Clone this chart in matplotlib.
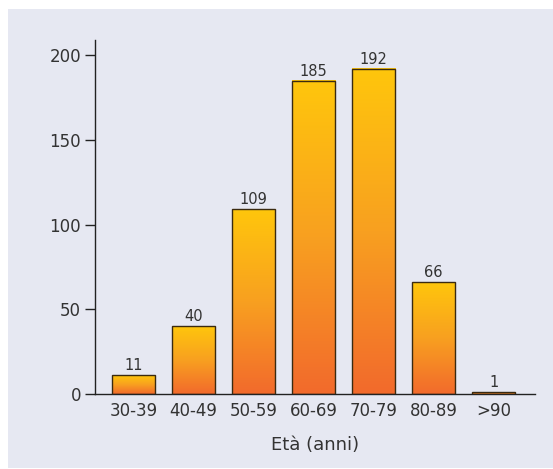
import numpy as np
import matplotlib.pyplot as plt
from matplotlib.colors import LinearSegmentedColormap
from matplotlib.patches import Rectangle

classi = ["30-39", "40-49", "50-59", "60-69", "70-79", "80-89", ">90"]
pazienti = [11, 40, 109, 185, 192, 66, 1]
yticks = [0, 50, 100, 150, 200]

plt.rcParams['font.family'] = ['DejaVu Sans']

fig = plt.figure(figsize=(5.53, 4.69), dpi=100)
fig.patch.set_facecolor("white")
# pannello lilla di sfondo
fig.patches.append(Rectangle((8 / 553, 1 / 469), 1 - 8 / 553, 459 / 469,
                             transform=fig.transFigure, facecolor="#E6E8F2",
                             edgecolor="none", zorder=-10))

ax = fig.add_axes([95 / 553, (469 - 394) / 469, (535 - 95) / 553, (394 - 40) / 469])
ax.set_facecolor("none")

cmap = LinearSegmentedColormap.from_list("giallo_arancio", ["#F26A2C", "#F8A020", "#FFC60C"])
grad = np.linspace(0, 1, 256).reshape(-1, 1)

x = np.arange(len(classi))
w = 0.72
bars = ax.bar(x, pazienti, width=w, facecolor="none", edgecolor="#3a2a10", linewidth=1.0, zorder=3)
for b, v in zip(bars, pazienti):
    x0 = b.get_x()
    ax.imshow(grad, cmap=cmap, aspect="auto", origin="lower",
              extent=(x0, x0 + w, 0, v), zorder=2, interpolation="bilinear")
    ax.text(b.get_x() + w / 2, v + 1.2, str(v), ha="center", va="bottom",
            fontsize=10.5, color="#333333")

ax.set_xlim(-0.64, 6.69)
ax.set_ylim(0, 209)
ax.set_yticks(yticks)
ax.set_xticks(x)
ax.set_xticklabels(classi)
ax.tick_params(axis="y", length=7, width=1, color="#222222", labelsize=12, labelcolor="#333333", pad=3)
ax.tick_params(axis="x", length=0, labelsize=12, labelcolor="#333333", pad=6)
for s in ["top", "right"]:
    ax.spines[s].set_visible(False)
for s in ["left", "bottom"]:
    ax.spines[s].set_color("#222222")
    ax.spines[s].set_linewidth(1.0)
ax.set_xlabel("Età (anni)", fontsize=13, color="#333333", labelpad=11)

fig.savefig("out.png", dpi=100, facecolor=fig.get_facecolor())
